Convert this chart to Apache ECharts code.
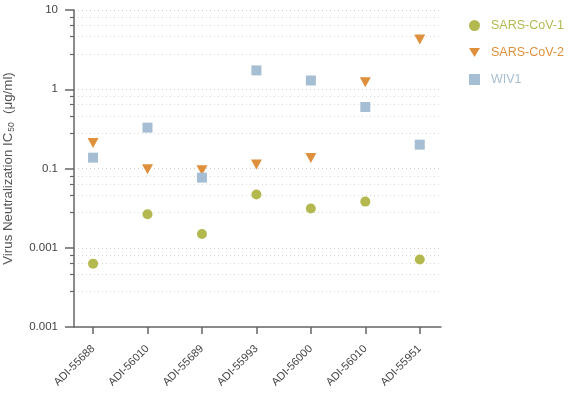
<!DOCTYPE html>
<html>
<head>
<meta charset="utf-8">
<script src="https://cdn.jsdelivr.net/npm/echarts@6/dist/echarts.min.js"></script>
<style>html,body{margin:0;padding:0;background:#fff}#c{width:569px;height:393px}</style>
</head>
<body>
<div id="c"></div>
<script>
const categories = ['ADI-55688', 'ADI-56010', 'ADI-55689', 'ADI-55993', 'ADI-56000', 'ADI-56010', 'ADI-55951'];
const sarsCov1 = [0.0063, 0.0264, 0.0149, 0.0469, 0.0312, 0.0382, 0.0071];
const sarsCov2 = [0.21, 0.098, 0.095, 0.112, 0.136, 1.23, 4.23];
const wiv1 = [0.137, 0.328, 0.0767, 1.73, 1.29, 0.597, 0.20];
const yTickValues = [0.001, 0.01, 0.1, 1, 10];
const yTickLabels = ['0.001', '0.001', '0.1', '1', '10'];
const minorMultipliers = [2.8, 4.6, 6.4, 8.1];
const seriesNames = ['SARS-CoV-1', 'SARS-CoV-2', 'WIV1'];
const seriesColors = ['#b3b94f', '#df903c', '#a6bed3'];
const legendIcons = ['circle', 'path://M0,0L12,0L6,10Z', 'rect'];

const FONT = 'Liberation Sans, Arial, sans-serif';
const xIdx = categories.map((c, i) => i);
const minorValues = [];
yTickValues.slice(0, -1).forEach(d => minorMultipliers.forEach(m => minorValues.push(d * m)));
const toPts = arr => arr.map((v, i) => [i, v]);

const chart = echarts.init(document.getElementById('c'), null, {renderer: 'canvas'});
chart.setOption({
  animation: false,
  textStyle: {fontFamily: FONT},
  grid: {left: 74, right: 128, top: 10, bottom: 66, containLabel: false, outerBoundsMode: 'none'},
  legend: {
    orient: 'vertical',
    left: 464,
    top: 14,
    itemWidth: 11,
    itemHeight: 11,
    itemGap: 14,
    textStyle: {fontSize: 12.5, fontFamily: FONT, padding: [0, 0, 0, 6]},
    data: seriesNames.map((n, i) => ({name: n, icon: legendIcons[i], textStyle: {color: seriesColors[i]}}))
  },
  xAxis: {
    type: 'value',
    min: -0.35,
    max: 6.39,
    axisLine: {onZero: false, lineStyle: {color: '#666', width: 1.5}},
    axisTick: {customValues: xIdx, length: 7, lineStyle: {color: '#666', width: 1.5}},
    axisLabel: {
      customValues: xIdx,
      rotate: 45,
      margin: 20,
      fontSize: 11,
      color: '#444',
      fontFamily: FONT,
      formatter: v => categories[Math.round(v)]
    },
    splitLine: {show: false}
  },
  yAxis: [{
    type: 'log',
    logBase: 10,
    min: 0.001,
    max: 10,
    name: 'Virus Neutralization IC{sub|50}  (μg/ml)',
    nameLocation: 'middle',
    nameGap: 58,
    nameMoveOverlap: false,
    nameTextStyle: {
      fontSize: 13.3, color: '#555', fontFamily: FONT,
      rich: {sub: {fontSize: 8.5, color: '#555', fontFamily: FONT, padding: [7, 1, 0, 1]}}
    },
    axisLine: {show: true, onZero: false, lineStyle: {color: '#666', width: 1.5}},
    axisTick: {customValues: yTickValues, length: 9, lineStyle: {color: '#666', width: 1.5}},
    axisLabel: {
      customValues: yTickValues,
      fontSize: 11.5,
      color: '#444',
      margin: 16,
      fontFamily: FONT,
      formatter: v => yTickLabels[Math.round(Math.log10(v)) + 3]
    },
    splitLine: {show: true, lineStyle: {color: '#cccccc', type: [1, 3], width: 1}}
  }, {
    type: 'log',
    logBase: 10,
    min: 0.001,
    max: 10,
    position: 'left',
    axisLine: {show: false, onZero: false},
    axisTick: {show: true, customValues: minorValues, length: 4, lineStyle: {color: '#666', width: 1.2}},
    axisLabel: {show: false, customValues: minorValues},
    splitLine: {show: true, lineStyle: {color: '#d8d8d8', type: [1, 3], width: 1}}
  }],
  series: [
    {name: seriesNames[0], type: 'scatter', symbol: 'circle', symbolSize: 10, itemStyle: {color: seriesColors[0], opacity: 1}, data: toPts(sarsCov1)},
    {name: seriesNames[1], type: 'scatter', symbol: 'triangle', symbolRotate: 180, symbolSize: [11, 10], itemStyle: {color: seriesColors[1], opacity: 1}, data: toPts(sarsCov2)},
    {name: seriesNames[2], type: 'scatter', symbol: 'rect', symbolSize: 10, itemStyle: {color: seriesColors[2], opacity: 1}, data: toPts(wiv1)}
  ]
});
</script>
</body>
</html>
